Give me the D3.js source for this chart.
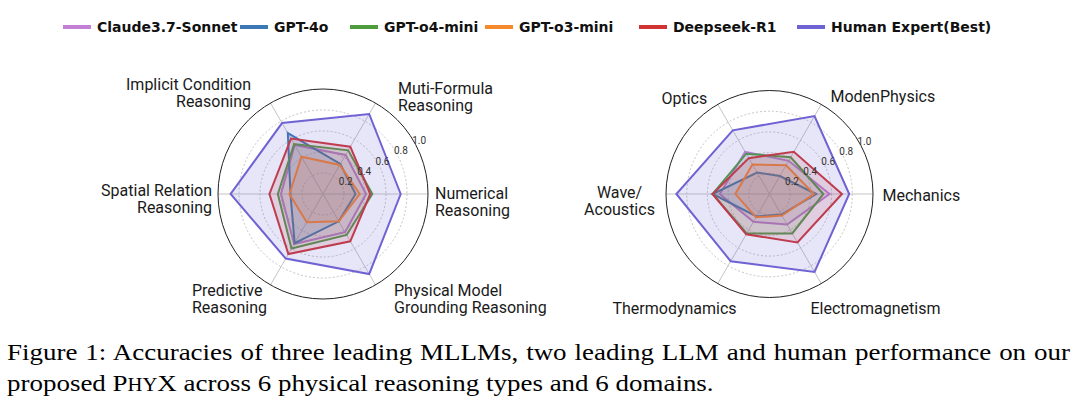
<!DOCTYPE html>
<html>
<head>
<meta charset="utf-8">
<script src="https://cdn.jsdelivr.net/npm/d3@7"></script>
<style>
  body { margin: 0; background: #fff; }
</style>
</head>
<body>
<svg id="chart"></svg>
<script>
// ---- data ----
const models = ["Claude3.7-Sonnet", "GPT-4o", "GPT-o4-mini", "GPT-o3-mini", "Deepseek-R1", "Human Expert(Best)"];
const colors = ["#c17fd6", "#3b78b4", "#4e9d3d", "#f58a2d", "#cf3433", "#6f62d3"];

const reasoningTypes = ["Numerical\nReasoning", "Muti-Formula\nReasoning", "Implicit Condition\nReasoning",
  "Spatial Relation\nReasoning", "Predictive\nReasoning", "Physical Model\nGrounding Reasoning"];
const domains = ["Mechanics", "ModenPhysics", "Optics", "Wave/\nAcoustics", "Thermodynamics", "Electromagnetism"];

// accuracy per model, same order as the axes above
const claudeTypes   = [0.41, 0.43, 0.54, 0.40, 0.55, 0.42];
const gpt4oTypes    = [0.31, 0.33, 0.67, 0.31, 0.54, 0.30];
const o4miniTypes   = [0.47, 0.48, 0.55, 0.43, 0.60, 0.45];
const o3miniTypes   = [0.35, 0.32, 0.41, 0.32, 0.31, 0.30];
const deepseekTypes = [0.45, 0.52, 0.61, 0.51, 0.66, 0.52];
const humanTypes    = [0.74, 0.88, 0.78, 0.88, 0.71, 0.88];

const claudeDomains   = [0.58, 0.37, 0.47, 0.48, 0.31, 0.34];
const gpt4oDomains    = [0.45, 0.20, 0.24, 0.55, 0.25, 0.23];
const o4miniDomains   = [0.52, 0.41, 0.45, 0.55, 0.44, 0.44];
const o3miniDomains   = [0.43, 0.32, 0.33, 0.33, 0.26, 0.24];
const deepseekDomains = [0.70, 0.47, 0.40, 0.55, 0.45, 0.54];
const humanDomains    = [0.77, 0.87, 0.71, 0.90, 0.75, 0.87];

const rTicks = [0.2, 0.4, 0.6, 0.8, 1.0];

// ---- layout ----
const width = 1080, height = 411;
const svg = d3.select('#chart').attr('width', width).attr('height', height);
svg.append('rect').attr('width', width).attr('height', height).attr('fill', '#fff');

// label placement: [dx, dy of first baseline from centre, anchor]
const typeLabelPos = [[112, 5, 'start'], [75, -100, 'start'], [-72, -104, 'end'],
  [-111, 2, 'end'], [-131, 102, 'start'], [71, 102, 'start']];
const domainLabelPos = [[113, 7, 'start'], [61, -92, 'start'], [-108, -90, 'start'],
  [-150, 4, 'middle'], [-157, 120, 'start'], [41, 120, 'start']];

function radar(cx, cy, R, axes, series, labelPos) {
  let g = svg.append('g').attr('transform', 'translate(' + cx + ',' + cy + ')');
  let r = d3.scaleLinear().domain([0, 1]).range([0, R]);
  let ang = i => Math.PI / 2 - i * Math.PI / 3;   // radial angle (clockwise from top)

  g.selectAll('.grid')
    .data(rTicks.slice(0, -1))
    .enter()
    .append('circle')
    .attr('r', d => r(d))
    .attr('fill', 'none')
    .attr('stroke', '#b5b5b5')
    .attr('stroke-width', 0.8)
    .attr('stroke-dasharray', '2,2')

  g.selectAll('.spoke')
    .data(axes)
    .enter()
    .append('line')
    .attr('x2', (d, i) => r(1) * Math.sin(ang(i)))
    .attr('y2', (d, i) => -r(1) * Math.cos(ang(i)))
    .attr('stroke', '#c4c4c4')
    .attr('stroke-width', 1)

  g.append('circle')
    .attr('r', r(1))
    .attr('fill', 'none')
    .attr('stroke', '#222')
    .attr('stroke-width', 1)

  let line = d3.lineRadial()
    .angle((d, i) => ang(i))
    .radius(d => r(d))
    .curve(d3.curveLinearClosed);

  g.selectAll('.series')
    .data(series)
    .enter()
    .append('path')
    .attr('d', d => line(d))
    .attr('fill', (d, i) => colors[i])
    .attr('fill-opacity', (d, i) => i === 5 ? 0.17 : 0.14)
    .attr('stroke', (d, i) => colors[i])
    .attr('stroke-width', 2)
    .attr('stroke-linejoin', 'miter')

  let tickAngle = 29 * Math.PI / 180;
  g.selectAll('.rtick')
    .data(rTicks)
    .enter()
    .append('text')
    .attr('x', d => (r(d) + 5) * Math.cos(tickAngle))
    .attr('y', d => -(r(d) + 5) * Math.sin(tickAngle))
    .attr('dy', '0.35em')
    .style('text-anchor', 'middle')
    .style('font-family', 'Roboto, sans-serif')
    .style('font-size', '10px')
    .style('fill', '#333')
    .text(d => d.toFixed(1))

  axes.forEach((label, i) => {
    let p = labelPos[i];
    let t = g.append('text')
      .attr('x', p[0])
      .attr('y', p[1])
      .style('text-anchor', p[2])
      .style('font-family', 'Roboto, sans-serif')
      .style('font-size', '16px')
      .style('fill', '#1a1a1a');
    label.split('\n').forEach((part, k) => {
      t.append('tspan').attr('x', p[0]).attr('dy', k === 0 ? 0 : 17).text(part);
    });
  });
}

radar(323, 194, 105, reasoningTypes,
  [claudeTypes, gpt4oTypes, o4miniTypes, o3miniTypes, deepseekTypes, humanTypes], typeLabelPos);
radar(769.5, 194, 103.5, domains,
  [claudeDomains, gpt4oDomains, o4miniDomains, o3miniDomains, deepseekDomains, humanDomains], domainLabelPos);

// ---- legend ----
const legendX = [63, 240, 350, 485, 639, 797];
let legend = svg.selectAll('.legend')
  .data(models)
  .enter()
  .append('g')
  .attr('transform', (d, i) => 'translate(' + legendX[i] + ',27)');

legend.append('line')
  .attr('x2', 28)
  .attr('stroke', (d, i) => colors[i])
  .attr('stroke-width', 4)

legend.append('text')
  .attr('x', 34)
  .attr('y', 5)
  .style('font-family', '"DejaVu Sans", Verdana, sans-serif')
  .style('font-weight', 'bold')
  .style('font-size', '14px')
  .style('fill', '#111')
  .text(d => d)

// ---- caption ----
let capG = svg.append('g');
let cap1 = capG.append('text')
  .attr('x', 0)
  .attr('y', 360)
  .style('font-family', '"Liberation Serif", "Times New Roman", serif')
  .style('font-size', '23.5px')
  .style('fill', '#000')
  .text('Figure 1: Accuracies of three leading MLLMs, two leading LLM and human performance on our');

let cap2 = capG.append('text')
  .attr('x', 0)
  .attr('y', 391)
  .style('font-family', '"Liberation Serif", "Times New Roman", serif')
  .style('font-size', '23.5px')
  .style('fill', '#000');
cap2.append('tspan').text('proposed P');
cap2.append('tspan').style('font-size', '18px').text('HY');
cap2.append('tspan').text('X across 6 physical reasoning types and 6 domains.');

// the reference typeface is wider than Liberation Serif: stretch to the same width
let sx = 707 / cap2.node().getComputedTextLength();
capG.attr('transform', 'translate(7,0) scale(' + sx + ',1)');
let natural = cap1.node().getComputedTextLength();
let spaces = cap1.text().split(' ').length - 1;
cap1.style('word-spacing', ((1063 / sx - natural) / spaces) + 'px');
</script>
</body>
</html>
